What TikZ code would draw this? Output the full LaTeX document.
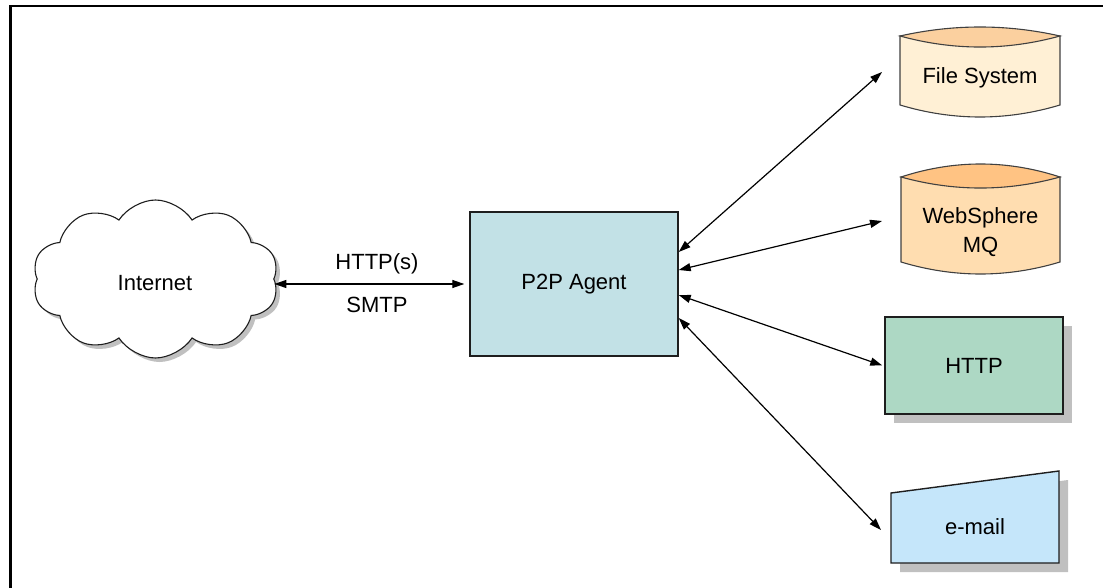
\documentclass[tikz,border=0pt]{standalone}
\usepackage{fontspec}
\setmainfont{Liberation Sans}
\usetikzlibrary{shapes.symbols,shadows,calc,arrows.meta}

\definecolor{agentfill}{RGB}{194,225,230}
\definecolor{httpfill}{RGB}{173,216,196}
\definecolor{mailfill}{RGB}{197,230,250}
\definecolor{fsbody}{RGB}{255,240,213}
\definecolor{fscap}{RGB}{251,208,159}
\definecolor{wsbody}{RGB}{255,221,176}
\definecolor{wscap}{RGB}{255,195,131}
\definecolor{shadowgray}{RGB}{192,192,192}
\definecolor{edgeline}{RGB}{30,30,30}

% Storage drum drawn around an empty node:
% #1 node, #2 body colour, #3 cap colour, #4 drop of the cap corners
\newcommand\storagedrum[4]{%
  \path[drumline, fill=#2]
    ($(#1.north west)+(0,#4)$) -- ($(#1.south west)+(0,-12)$)
    .. controls ($(#1.south west)!1/3!(#1.south east)+(0,4)$)
            and ($(#1.south west)!2/3!(#1.south east)+(0,4)$)
    .. ($(#1.south east)+(0,-12)$) -- ($(#1.north east)+(0,#4)$) -- cycle;
  \path[drumline, fill=#3]
    ($(#1.north west)+(0,#4)$)
    .. controls ($(#1.north west)!1/3!(#1.north east)+(0,-#4/3)$)
            and ($(#1.north west)!2/3!(#1.north east)+(0,-#4/3)$)
    .. ($(#1.north east)+(0,#4)$)
    .. controls ($(#1.north west)!2/3!(#1.north east)+(0,#4+14.7)$)
            and ($(#1.north west)!1/3!(#1.north east)+(0,#4+14.7)$)
    .. ($(#1.north west)+(0,#4)$) -- cycle;
}

\begin{document}
\begin{tikzpicture}[x=1pt,y=-1pt,
  every node/.style={font=\fontsize{22}{29}\selectfont, align=center},
  link/.style={line width=1.2pt,
    {Triangle[length=12pt,width=8pt]}-{Triangle[length=12pt,width=8pt]}},
  box/.style={draw=edgeline, line width=1.4pt, inner sep=0pt},
  drumline/.style={draw=black!75, line width=1.1pt},
  frameline/.style={line width=2.5pt},
  holder/.style={inner sep=0pt, outer sep=0pt},
  castshadow/.style={drop shadow={shadow xshift=#1, shadow yshift=-#1,
    fill=shadowgray, opacity=1}}
]
\useasboundingbox (0,0) rectangle (1103,588);

% outer frame (top and left edges)
\draw[frameline] (10.3,588) -- (10.3,6) -- (1103,6);

% Internet cloud
\node[cloud, cloud puffs=10, cloud puff arc=115, aspect=1.55,
      draw=edgeline, line width=1.1pt, fill=white, castshadow=4pt,
      minimum width=246pt, minimum height=158pt, inner sep=0pt]
  (net) at (155.5,279) {};
\node (netlabel) at (155,283) {Internet};

% agent
\node[box, fill=agentfill, minimum width=208pt, minimum height=144pt]
  (agent) at (574,284) {P2P Agent};

% file system drum
\node[holder, minimum width=160pt, minimum height=90pt] (fs) at (980,72) {};
\storagedrum{fs}{fsbody}{fscap}{9}
\node (fslabel) at (980,78) {File System};

% WebSphere MQ drum
\node[holder, minimum width=159pt, minimum height=110pt] (ws) at (980.5,219) {};
\storagedrum{ws}{wsbody}{wscap}{13}
\node (wslabel) at (980.5,232.5) {WebSphere\\MQ};

% HTTP box
\node[box, fill=httpfill, minimum width=178pt, minimum height=97pt,
      castshadow=9pt] (http) at (974,365.5) {HTTP};

% e-mail (manual input) with its offset shadow
\node[holder, minimum width=168pt, minimum height=92pt] (mail) at (975,517) {};
\fill[shadowgray]
  ($(mail.north west)+(9,31)$) -- ($(mail.north east)+(9,9)$)
  -- ($(mail.south east)+(9,9)$) -- ($(mail.south west)+(9,9)$) -- cycle;
\draw[edgeline, line width=1.4pt, fill=mailfill, line join=miter]
  ($(mail.north west)+(0,22)$) -- (mail.north east) -- (mail.south east)
  -- (mail.south west) -- cycle;
\node (maillabel) at (975,527) {e-mail};

% connectors
\draw[link] (net.east |- agent.west) -- ([xshift=-5pt]agent.west);
\node (proto1) at (377,264) {HTTP(s)};
\node (proto2) at (377,305) {SMTP};

\draw[link] ([yshift=32pt]agent.east) -- ([xshift=-18pt]fs.west);
\draw[link] ([yshift=14pt]agent.east) -- ([xshift=-19pt,yshift=-2pt]ws.west);
\draw[link] ([yshift=-11pt]agent.east) -- ([xshift=-2pt]http.west);
\draw[link] ([yshift=-34pt]agent.east) -- ([xshift=-10pt,yshift=-13pt]mail.west);
\end{tikzpicture}
\end{document}
